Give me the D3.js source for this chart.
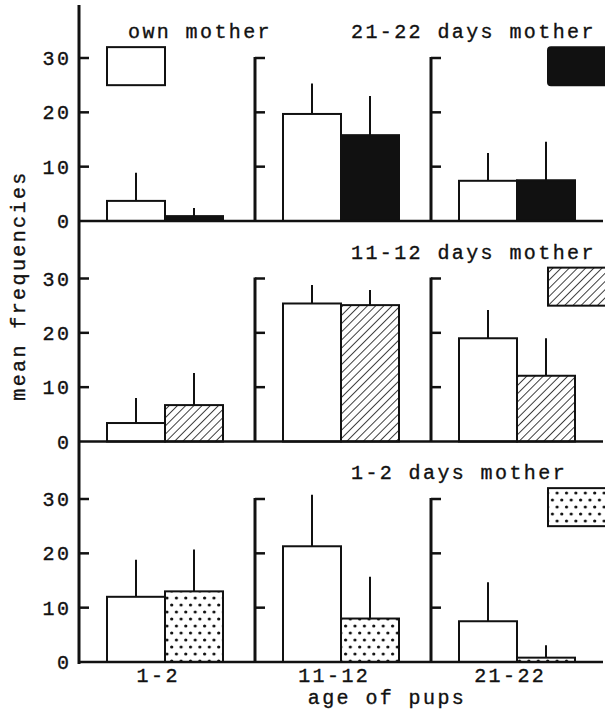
<!DOCTYPE html>
<html>
<head>
<meta charset="utf-8">
<script src="https://cdn.jsdelivr.net/npm/d3@7"></script>
<style>
  body { margin: 0; background: #fff; }
  svg { display: block; }
  text { font-family: "Liberation Mono", "DejaVu Sans Mono", monospace; fill: #111; stroke: #111; stroke-width: 0.35; }
</style>
</head>
<body>
<svg id="chart"></svg>
<script>
// 데이터
const ages = ["1-2", "11-12", "21-22"];
const panelNames = ["21-22 days mother", "11-12 days mother", "1-2 days mother"];
const panelFills = ["black", "hatch", "dots"];
const ownMean = [[3.7, 19.7, 7.4], [3.4, 25.4, 19.0], [12.0, 21.3, 7.5]];
const ownTop = [[8.9, 25.3, 12.5], [8.0, 28.8, 24.2], [18.8, 30.8, 14.7]];
const fosterMean = [[0.9, 15.8, 7.5], [6.7, 25.1, 12.1], [13.0, 8.0, 0.8]];
const fosterTop = [[2.4, 23.0, 14.6], [12.6, 27.9, 19.0], [20.7, 15.7, 3.1]];
const yTicks = [0, 10, 20, 30];
const legendRange = [25, 32]; // 범례 박스 (y 단위)

const width = 605, height = 713;
const fontSize = 20, spacing = 2.4;
const svg = d3.select("#chart").attr("width", width).attr("height", height);

// 패턴 정의
const defs = svg.append("defs");
const hatch = defs.append("pattern").attr("id", "hatch")
    .attr("patternUnits", "userSpaceOnUse").attr("width", 5.8).attr("height", 5.8)
    .attr("patternTransform", "rotate(45)");
hatch.append("rect").attr("width", 5.8).attr("height", 5.8).attr("fill", "white");
hatch.append("line").attr("x1", 0).attr("y1", 0).attr("x2", 0).attr("y2", 5.8)
    .attr("stroke", "#111").attr("stroke-width", 1.6);
const dots = defs.append("pattern").attr("id", "dots")
    .attr("patternUnits", "userSpaceOnUse").attr("width", 9.4).attr("height", 14);
dots.append("rect").attr("width", 9.4).attr("height", 14).attr("fill", "white");
dots.append("circle").attr("cx", 2.5).attr("cy", 3).attr("r", 1.6).attr("fill", "#111");
dots.append("circle").attr("cx", 7.2).attr("cy", 10).attr("r", 1.6).attr("fill", "#111");

const fillOf = f => f === "black" ? "#111" : `url(#${f})`;

// 스케일
const xScale = d3.scaleBand().domain(ages).range([79, 607]);
const barScale = d3.scaleBand().domain(["own", "foster"]).range([28, 144]);
const panelZero = d3.scaleLinear().domain([0, 2]).range([221, 662]);
const unit = 163 / 30;

const g = svg.append("g");

// 메인 y축
g.append("line")
    .attr("x1", xScale(ages[0])).attr("x2", xScale(ages[0]))
    .attr("y1", 5).attr("y2", panelZero(2) + 2)
    .attr("stroke", "#111").attr("stroke-width", 3);

panelNames.forEach((name, p) => {
    const zero = panelZero(p);
    const yScale = d3.scaleLinear().domain([0, 30]).range([zero, zero - 30 * unit]);
    const panel = g.append("g");

    // 그룹별 축 (두번째, 세번째)
    ages.slice(1).forEach(a => {
        panel.append("line")
            .attr("x1", xScale(a)).attr("x2", xScale(a))
            .attr("y1", yScale(0)).attr("y2", yScale(30) - 1)
            .attr("stroke", "#111").attr("stroke-width", 3);
    });
    // 눈금
    ages.forEach(a => {
        panel.selectAll(null)
            .data(yTicks.slice(1))
            .join("line")
            .attr("x1", xScale(a)).attr("x2", xScale(a) + 10)
            .attr("y1", yScale).attr("y2", yScale)
            .attr("stroke", "#111").attr("stroke-width", 2.5);
    });
    // 눈금 라벨
    panel.selectAll("text.tick")
        .data(yTicks)
        .join("text")
        .attr("class", "tick")
        .attr("x", xScale(ages[0]) - 10 + spacing)
        .attr("y", d => yScale(d) + 7)
        .attr("text-anchor", "end")
        .attr("font-size", fontSize)
        .attr("letter-spacing", spacing)
        .text(d => d);

    // 막대
    const rows = ages.map((a, i) => [
        {age: a, key: "own", mean: ownMean[p][i], top: ownTop[p][i], fill: "white"},
        {age: a, key: "foster", mean: fosterMean[p][i], top: fosterTop[p][i], fill: fillOf(panelFills[p])}
    ]).flat();

    panel.selectAll("line.err")
        .data(rows)
        .join("line")
        .attr("class", "err")
        .attr("x1", d => xScale(d.age) + barScale(d.key) + barScale.bandwidth() / 2)
        .attr("x2", d => xScale(d.age) + barScale(d.key) + barScale.bandwidth() / 2)
        .attr("y1", d => yScale(d.mean))
        .attr("y2", d => yScale(d.top))
        .attr("stroke", "#111").attr("stroke-width", 2);

    panel.selectAll("rect.bar")
        .data(rows)
        .join("rect")
        .attr("class", "bar")
        .attr("x", d => xScale(d.age) + barScale(d.key))
        .attr("y", d => yScale(d.mean))
        .attr("width", barScale.bandwidth())
        .attr("height", d => yScale(0) - yScale(d.mean))
        .attr("fill", d => d.fill)
        .attr("stroke", "#111").attr("stroke-width", 2);

    // 기준선
    panel.append("line")
        .attr("x1", xScale(ages[0])).attr("x2", 603)
        .attr("y1", yScale(0)).attr("y2", yScale(0))
        .attr("stroke", "#111").attr("stroke-width", 2.5);

    // 범례
    panel.append("rect")
        .attr("x", xScale(ages[2]) + 117)
        .attr("y", yScale(legendRange[1]))
        .attr("width", 62)
        .attr("height", yScale(legendRange[0]) - yScale(legendRange[1]))
        .attr("rx", panelFills[p] === "black" ? 3 : 0)
        .attr("fill", fillOf(panelFills[p]))
        .attr("stroke", "#111").attr("stroke-width", 2);
    panel.append("text")
        .attr("x", xScale(ages[1]) + 96)
        .attr("y", yScale(33.6))
        .attr("font-size", fontSize)
        .attr("letter-spacing", spacing)
        .text(name);

    if (p === 0) {
        panel.append("rect")
            .attr("x", xScale(ages[0]) + barScale("own"))
            .attr("y", yScale(legendRange[1]))
            .attr("width", barScale.bandwidth())
            .attr("height", yScale(legendRange[0]) - yScale(legendRange[1]))
            .attr("fill", "white")
            .attr("stroke", "#111").attr("stroke-width", 2);
        panel.append("text")
            .attr("x", xScale(ages[0]) + 49)
            .attr("y", yScale(33.7))
            .attr("font-size", fontSize)
            .attr("letter-spacing", spacing)
            .text("own mother");
    }
});

// x축 라벨
g.selectAll("text.age")
    .data(ages)
    .join("text")
    .attr("class", "age")
    .attr("x", d => xScale(d) + xScale.bandwidth() / 2 - 10 + spacing / 2)
    .attr("y", panelZero(2) + 20)
    .attr("text-anchor", "middle")
    .attr("font-size", fontSize)
    .attr("letter-spacing", spacing)
    .text(d => d);

g.append("text")
    .attr("x", 387)
    .attr("y", 704)
    .attr("text-anchor", "middle")
    .attr("font-size", fontSize)
    .attr("letter-spacing", spacing)
    .text("age of pups");

g.append("text")
    .attr("transform", `translate(25, ${(5 + panelZero(2)) / 2 - 48}) rotate(-90)`)
    .attr("text-anchor", "middle")
    .attr("font-size", fontSize)
    .attr("letter-spacing", spacing)
    .text("mean frequencies");
</script>
</body>
</html>
